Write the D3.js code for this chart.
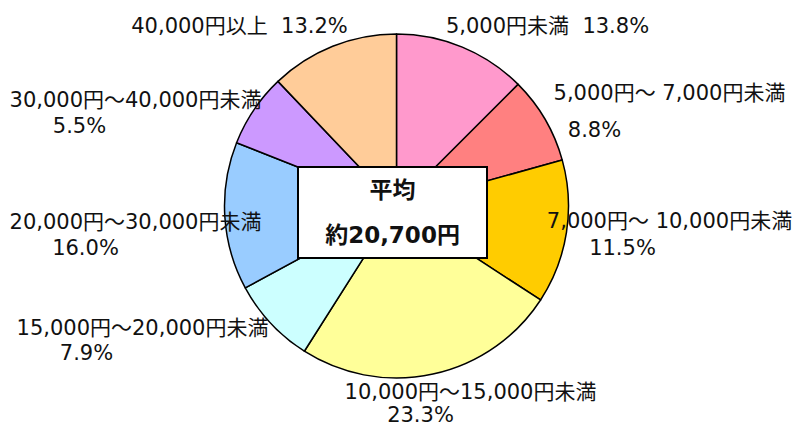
<!DOCTYPE html>
<html><head><meta charset="utf-8">
<script src="https://cdn.jsdelivr.net/npm/d3@7"></script>
<style>
html,body{margin:0;padding:0;background:#fff;}
text{font-family:"DejaVu Sans","Noto Sans CJK JP",sans-serif;white-space:pre;}
</style></head><body>
<svg id="c" width="795" height="427"></svg>
<script>
const categories = ["5,000円未満","5,000円～ 7,000円未満","7,000円～ 10,000円未満","10,000円～15,000円未満","15,000円～20,000円未満","20,000円～30,000円未満","30,000円～40,000円未満","40,000円以上"];
// printed percentages
const valueLabels = ["13.8%","8.8%","11.5%","23.3%","7.9%","16.0%","5.5%","13.2%"];
// shares of the circle as the slices are actually drawn in the picture (measured)
const sliceShares = [12.5, 8.2, 13.5, 24.8, 8.1, 13.9, 6.9, 12.1];
const colors = ["#FF99CC","#FF8080","#FFCC00","#FFFF99","#CCFFFF","#99CCFF","#CC99FF","#FFCC99"];
const centerTitle = "平均";
const centerValue = "約20,700円";

// label layout (offsets from pie centre): [line1 dx, line1 dy, line2 dx, line2 dy, singleLine]
const labelLayout = [
  [151,-173,0,0,true],
  [273,-106,198,-69,false],
  [273,22,226,49,false],
  [74,193,24,216,false],
  [-254,129,-310,154,false],
  [-261,23,-311,49,false],
  [-261,-99,-317,-73,false],
  [-157,-173,0,0,true]
];

const cx=396.5, cy=206, R=172;
const svg=d3.select("#c");
const g=svg.append("g").attr("transform",`translate(${cx},${cy})`);
const pie=d3.pie().sort(null).value(d=>d);
const arcs=pie(sliceShares);
const arc=d3.arc().innerRadius(0).outerRadius(R);
g.selectAll("path.s").data(arcs).enter().append("path")
  .attr("class","s")
  .attr("d",arc).attr("fill",(d,i)=>colors[i])
  .attr("stroke","#000").attr("stroke-width",1.5).attr("stroke-linejoin","round");

// labels
const fs=21;
arcs.forEach((d,i)=>{
  const L=labelLayout[i];
  if(L[4]){
    g.append("text").attr("x",L[0]).attr("y",L[1]).attr("text-anchor","middle")
     .attr("font-size",fs).attr("fill","#111").text(categories[i]+"  "+valueLabels[i]);
  } else {
    g.append("text").attr("x",L[0]).attr("y",L[1]).attr("text-anchor","middle")
     .attr("font-size",fs).attr("fill","#111").text(categories[i]);
    g.append("text").attr("x",L[2]).attr("y",L[3]).attr("text-anchor","middle")
     .attr("font-size",fs).attr("fill","#111").text(valueLabels[i]);
  }
});

// center box
const bx=298-cx, by=167-cy, bw=189, bh=91;
g.append("rect").attr("x",bx).attr("y",by).attr("width",bw).attr("height",bh)
  .attr("fill","#fff").attr("stroke","#000").attr("stroke-width",2);
g.append("text").attr("x",bx+bw/2).attr("y",by+31).attr("text-anchor","middle")
  .attr("font-size",23).attr("font-weight","bold").attr("fill","#111").text(centerTitle);
g.append("text").attr("x",bx+bw/2).attr("y",by+76).attr("text-anchor","middle")
  .attr("font-size",23).attr("font-weight","bold").attr("fill","#111").text(centerValue);
</script></body></html>
